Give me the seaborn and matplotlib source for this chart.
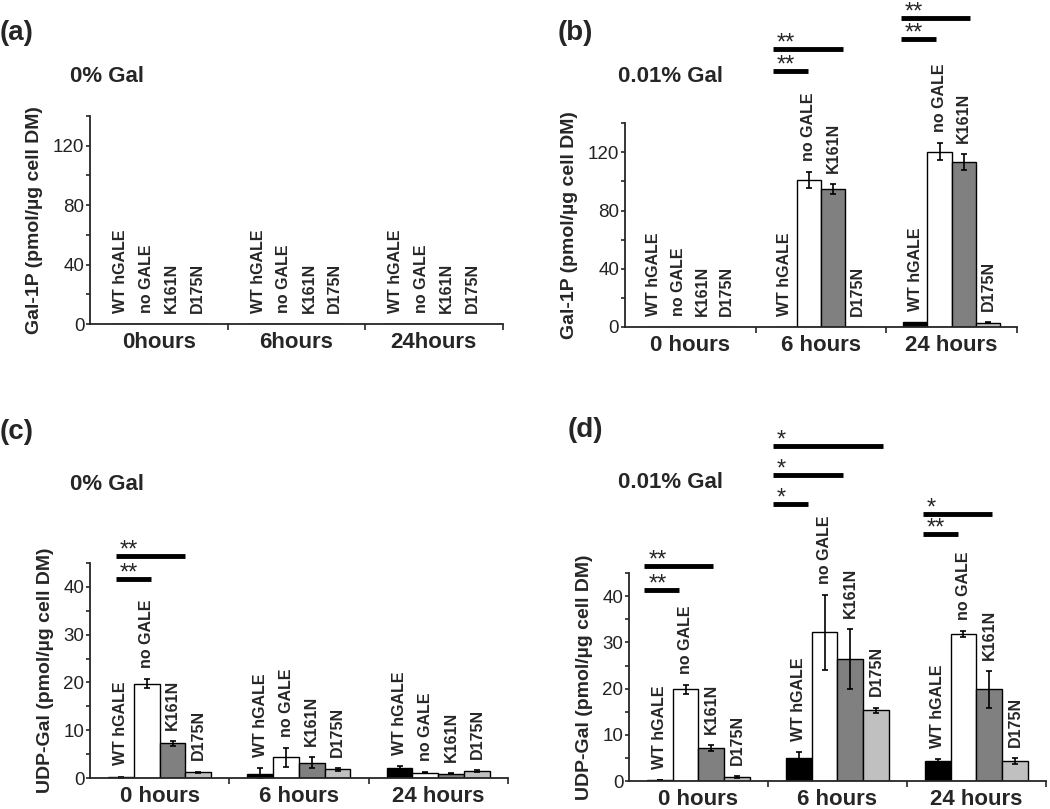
import numpy as np
import pandas as pd
import matplotlib
matplotlib.use('Agg')
import matplotlib.pyplot as plt
import seaborn as sns
from matplotlib.ticker import MultipleLocator
from matplotlib.container import BarContainer

# --- DATA ---
STRAINS = ['WT hGALE', 'no GALE', 'K161N', 'D175N']
COLORS = ['#000000', '#ffffff', '#808080', '#c0c0c0']
TIMES_A = ['0hours', '6hours', '24hours']
TIMES = ['0 hours', '6 hours', '24 hours']

# rows = strains, columns = times
gal1p_0_mean = [[0, 0, 0], [0, 0, 0], [0, 0, 0], [0, 0, 0]]
gal1p_0_err = [[0, 0, 0], [0, 0, 0], [0, 0, 0], [0, 0, 0]]

gal1p_001_mean = [[0, 0, 3.2], [0, 101, 120.5], [0, 95, 113], [0, 0, 3]]
gal1p_001_err = [[0, 0, 0], [0, 5.7, 5.7], [0, 3.4, 5.5], [0, 0, 0.5]]

udpgal_0_mean = [[0.2, 0.9, 2.1], [19.75, 4.3, 1.1], [7.3, 3.2, 0.9], [1.2, 1.8, 1.5]]
udpgal_0_err = [[0.1, 1.2, 0.4], [0.9, 2.0, 0.15], [0.5, 1.2, 0.1], [0.15, 0.3, 0.2]]

udpgal_001_mean = [[0.2, 4.9, 4.35], [19.85, 32.2, 31.8], [7.2, 26.4, 19.85], [0.9, 15.3, 4.3]]
udpgal_001_err = [[0.05, 1.3, 0.4], [1.0, 8.1, 0.6], [0.6, 6.4, 4.0], [0.2, 0.6, 0.7]]

# significance brackets: (x start, x end, y, stars)
sig_b = [(0.632, 0.90, 176, '**'), (0.632, 1.168, 191, '**'),
         (1.61, 1.88, 198, '**'), (1.61, 2.14, 212.5, '**')]
sig_c = [(-0.315, -0.064, 41.7, '**'), (-0.315, 0.18, 46.5, '**')]
sig_d = [(-0.39, -0.14, 41.3, '**'), (-0.39, 0.104, 46.5, '**'),
         (0.536, 0.788, 60, '*'), (0.536, 1.04, 66.3, '*'), (0.536, 1.33, 72.6, '*'),
         (1.615, 1.867, 53.5, '**'), (1.615, 2.11, 57.8, '*')]

sns.set_style('ticks')
plt.rcParams['font.family'] = ['Liberation Sans', 'DejaVu Sans']


def draw_panel(ax, times, means, errs, ymax, major, minor, ylabel, sigs):
    rows = []
    for i, s in enumerate(STRAINS):
        for j, t in enumerate(times):
            rows.append({'time': t, 'strain': s, 'value': means[i][j]})
    df = pd.DataFrame(rows)

    sns.barplot(data=df, x='time', y='value', hue='strain', order=times,
                hue_order=STRAINS, palette=COLORS, saturation=1,
                edgecolor='black', linewidth=1, width=0.74,
                errorbar=None, legend=False, ax=ax)

    # error bars + rotated strain labels on top of each bar
    bar_groups = [c for c in ax.containers if isinstance(c, BarContainer)]
    for i, cont in enumerate(bar_groups):
        for bar in cont:
            x = bar.get_x() + bar.get_width() / 2
            j = int(round(x))
            h = bar.get_height()
            e = errs[i][j]
            if e > 0:
                ax.errorbar(x, h, yerr=e, color='black', capsize=2.5,
                            elinewidth=1.2, capthick=1.2)
            ax.annotate(STRAINS[i], xy=(x, h + e), xytext=(0, 8),
                        textcoords='offset points', rotation=90,
                        ha='center', va='bottom', fontweight='bold',
                        fontsize=11.5)

    for x0, x1, y, txt in sigs:
        ax.plot([x0, x1], [y, y], color='black', lw=3.5, clip_on=False,
                solid_capstyle='butt')
        ax.annotate(txt, xy=(x0, y), xytext=(3, -4), textcoords='offset points',
                    ha='left', va='bottom', fontsize=17, annotation_clip=False)

    ax.set_xlim(-0.5, 2.5)
    ax.set_ylim(0, ymax)
    ax.yaxis.set_major_locator(MultipleLocator(major))
    ax.yaxis.set_minor_locator(MultipleLocator(minor))
    ax.set_xticks([0, 1, 2])
    ax.set_xticklabels(times, fontweight='bold', fontsize=16)
    ax.set_xticks([0.5, 1.5, 2.5], minor=True)
    ax.tick_params(axis='x', which='major', length=0, pad=6)
    ax.tick_params(axis='x', which='minor', length=4, width=1.2)
    ax.tick_params(axis='y', which='both', length=3, width=1.2, pad=1,
                   labelsize=13.5, labelcolor='#222222')
    ax.set_xlabel('')
    ax.set_ylabel(ylabel, fontweight='bold', fontsize=14, labelpad=7)
    for sp in ['left', 'bottom']:
        ax.spines[sp].set_linewidth(1.3)
    sns.despine(ax=ax)


fig = plt.figure(figsize=(10.5, 8.09), dpi=100)

ax_a = fig.add_axes([0.0857, 0.5995, 0.393, 0.257])
ax_b = fig.add_axes([0.595, 0.5958, 0.3736, 0.252])
ax_c = fig.add_axes([0.0857, 0.0383, 0.398, 0.2657])
ax_d = fig.add_axes([0.599, 0.0346, 0.397, 0.257])

GAL1P = 'Gal-1P (pmol/µg cell DM)'
UDPGAL = 'UDP-Gal (pmol/µg cell DM)'

draw_panel(ax_a, TIMES_A, gal1p_0_mean, gal1p_0_err, 140, 40, 20, GAL1P, [])
draw_panel(ax_b, TIMES, gal1p_001_mean, gal1p_001_err, 140, 40, 20, GAL1P, sig_b)
draw_panel(ax_c, TIMES, udpgal_0_mean, udpgal_0_err, 45, 10, 5, UDPGAL, sig_c)
draw_panel(ax_d, TIMES, udpgal_001_mean, udpgal_001_err, 45, 10, 5, UDPGAL, sig_d)

# panel letters and conditions
for x, y, s in [(0.0, 0.959, '(a)'), (0.531, 0.959, '(b)'),
                (0.0, 0.466, '(c)'), (0.541, 0.468, '(d)')]:
    fig.text(x, y, s, fontsize=20, fontweight='bold', va='center', ha='left')

for x, y, s in [(0.0667, 0.905, '0% Gal'), (0.5886, 0.905, '0.01% Gal'),
                (0.0667, 0.4005, '0% Gal'), (0.5886, 0.403, '0.01% Gal')]:
    fig.text(x, y, s, fontsize=16, fontweight='bold', va='center', ha='left')

fig.savefig('out.png', dpi=100)
